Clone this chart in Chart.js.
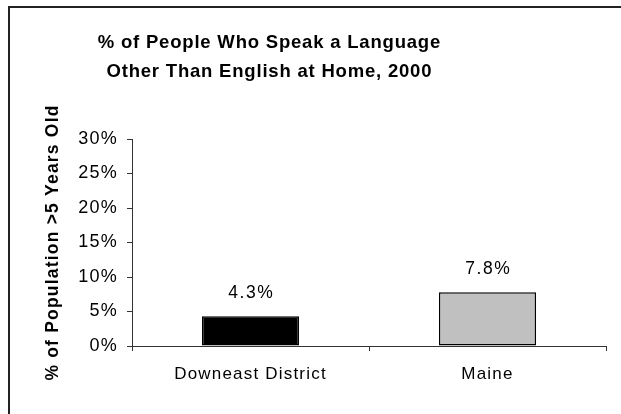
<!DOCTYPE html>
<html>
<head>
<meta charset="utf-8">
<script src="https://cdn.jsdelivr.net/npm/chart.js@4/dist/chart.umd.min.js"></script>
<style>
  html, body { margin: 0; padding: 0; overflow: hidden; background: #fff; width: 621px; height: 414px; }
  #wrap { position: relative; width: 621px; height: 414px; }
  #c { position: absolute; left: 0; top: 0; display: block; }
  #frame { position: absolute; left: 8px; top: 6px; width: 700px; height: 500px;
           border: 2px solid #222; box-sizing: border-box; pointer-events: none; }
</style>
</head>
<body>
<div id="wrap">
  <canvas id="c" width="621" height="414"></canvas>
  <div id="frame"></div>
</div>
<script>
// ---- data ----
const titleLines = ['% of People Who Speak a Language', 'Other Than English at Home, 2000'];
const yAxisTitle = '% of Population >5 Years Old';
const categories = ['Downeast District', 'Maine'];
const values = [4.3, 7.8];
const barColors = ['#000000', '#C0C0C0'];
const yTickValues = [0, 5, 10, 15, 20, 25, 30];

const FONT = "'Liberation Sans', Arial, Helvetica, sans-serif";
const LS = 1.2; // letter spacing (px) to mimic the wide text rendering

const spacingPlugin = {
  id: 'spacing',
  beforeLayout(chart) { chart.ctx.letterSpacing = LS + 'px'; },
  beforeDraw(chart) { chart.ctx.letterSpacing = LS + 'px'; }
};

const titlePlugin = {
  id: 'customTitle',
  afterDraw(chart) {
    const ctx = chart.ctx;
    ctx.save();
    const ls = 0.8;
    ctx.letterSpacing = ls + 'px';
    ctx.font = 'bold 18.5px ' + FONT;
    ctx.fillStyle = '#000';
    ctx.textAlign = 'center';
    ctx.textBaseline = 'alphabetic';
    const cx = 269 + ls / 2;
    ctx.fillText(titleLines[0], cx, 47.5);
    ctx.fillText(titleLines[1], cx, 77);
    ctx.restore();
  }
};

const valueLabelPlugin = {
  id: 'valueLabels',
  afterDatasetsDraw(chart) {
    const ctx = chart.ctx;
    const meta = chart.getDatasetMeta(0);
    ctx.save();
    const ls = 1.5;
    ctx.letterSpacing = ls + 'px';
    ctx.font = '17.5px ' + FONT;
    ctx.fillStyle = '#000';
    ctx.textAlign = 'center';
    ctx.textBaseline = 'alphabetic';
    meta.data.forEach((bar, i) => {
      ctx.fillText(values[i].toFixed(1) + '%', bar.x + ls / 2, bar.y - 18);
    });
    ctx.restore();
  }
};

new Chart(document.getElementById('c'), {
  type: 'bar',
  data: {
    labels: categories,
    datasets: [{
      data: values,
      backgroundColor: barColors,
      borderColor: '#000000',
      borderWidth: 1.5,
      borderSkipped: false,
      categoryPercentage: 1.0,
      barPercentage: 0.41
    }]
  },
  options: {
    responsive: false,
    animation: false,
    devicePixelRatio: 1,
    layout: { padding: { top: 139, right: 15, left: 0, bottom: 0 } },
    plugins: {
      legend: { display: false },
      title: { display: false },
      tooltip: { enabled: false }
    },
    scales: {
      x: {
        type: 'category',
        grid: { display: true, drawOnChartArea: false, drawTicks: true, tickLength: 5, color: '#333', offset: true },
        border: { display: true, color: '#333', width: 1 },
        ticks: { color: '#000', font: { family: FONT, size: 17 }, padding: 13, maxRotation: 0 },
        afterFit(scale) { scale.height = 68; }
      },
      y: {
        min: 0,
        max: 30,
        afterBuildTicks(scale) { scale.ticks = yTickValues.map(v => ({ value: v })); },
        grid: { display: true, drawOnChartArea: false, drawTicks: true, tickLength: 5, color: '#333' },
        border: { display: true, color: '#333', width: 1 },
        ticks: { color: '#000', font: { family: FONT, size: 18 }, padding: 9, callback: v => v + '%' },
        title: {
          display: true,
          text: yAxisTitle,
          color: '#000',
          font: { family: FONT, size: 17.5, weight: 'bold' },
          padding: { top: 43, bottom: 0 }
        },
        afterFit(scale) { scale.width = 132; }
      }
    }
  },
  plugins: [spacingPlugin, titlePlugin, valueLabelPlugin]
});
</script>
</body>
</html>
